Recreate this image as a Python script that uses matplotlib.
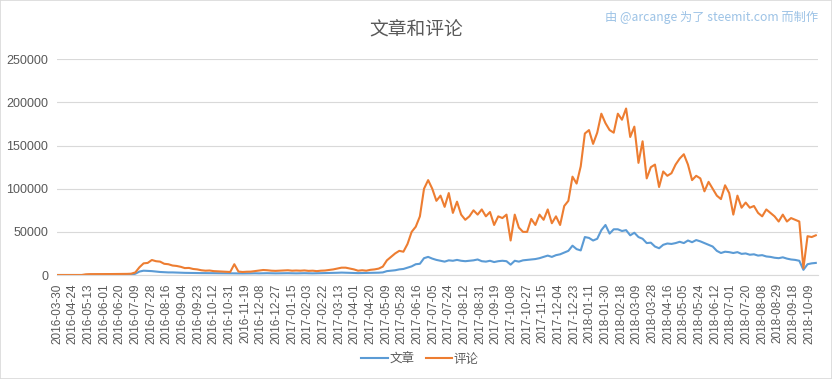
import numpy as np
import matplotlib
matplotlib.use("Agg")
import matplotlib.pyplot as plt
from matplotlib.patches import Rectangle

plt.rcParams['font.family'] = ['Liberation Sans', 'Noto Sans CJK SC', 'DejaVu Sans']

# 类别轴：每 19 个类别显示一个日期标签
tick_labels = [
    "2016-03-30", "2016-04-24", "2016-05-13", "2016-06-01", "2016-06-20", "2016-07-09",
    "2016-07-28", "2016-08-16", "2016-09-04", "2016-09-23", "2016-10-12", "2016-10-31",
    "2016-11-19", "2016-12-08", "2016-12-27", "2017-01-15", "2017-02-03", "2017-02-22",
    "2017-03-13", "2017-04-01", "2017-04-20", "2017-05-09", "2017-05-28", "2017-06-16",
    "2017-07-05", "2017-07-24", "2017-08-12", "2017-08-31", "2017-09-19", "2017-10-08",
    "2017-10-27", "2017-11-15", "2017-12-04", "2017-12-23", "2018-01-11", "2018-01-30",
    "2018-02-18", "2018-03-09", "2018-03-28", "2018-04-16", "2018-05-05", "2018-05-24",
    "2018-06-12", "2018-07-01", "2018-07-20", "2018-08-08", "2018-08-29", "2018-09-18",
    "2018-10-09",
]
label_every = 19
n_categories = 923
sample_step = 5  # 每 5 个类别取一个值

# 评论 (comments)
comments = [
    0, 0, 0, 0, 0, 0, 0, 800,
    1000, 1000, 1000, 1100, 1100, 1100, 1200, 1200, 1200, 1300, 1500,
    3000, 9000, 13500, 14000, 17400, 16000, 15500, 13000, 12500, 11000,
    10500, 9500, 8000, 8200, 7000, 6500, 5500, 5000, 5200, 4500,
    4200, 4000, 3800, 3500, 12500, 4000, 3500, 3800, 3900, 4500,
    5000, 5800, 5500, 5000, 4800, 5000, 5200, 5500, 5000, 5200,
    5000, 5300, 4800, 5000, 4500, 5000, 5200, 5800, 6500, 7500,
    8500, 8500, 7500, 6500, 5000, 5500, 5000, 6000, 6500, 7400,
    9700, 17000, 21000, 25000, 28000, 27000, 36000, 50000, 56000, 68000,
    100000, 110000, 100000, 86000, 92000, 79000, 95000, 72000, 85000, 70000,
    64000, 68000, 75000, 70000, 76000, 68000, 73000, 58000, 68000, 66000,
    70000, 40000, 70000, 55000, 50000, 50000, 65000, 58000, 70000, 64000,
    76000, 60000, 68000, 58000, 80000, 86000, 114000, 106000, 126000, 164000,
    168000, 152000, 165000, 187000, 176000, 168000, 165000, 187000, 180000, 193000,
    160000, 172000, 130000, 155000, 112000, 125000, 128000, 102000, 120000, 115000,
    118000, 128000, 135000, 140000, 128000, 110000, 115000, 112000, 97000, 108000,
    100000, 92000, 88000, 104000, 95000, 70000, 92000, 78000, 84000, 78000,
    80000, 72000, 68000, 76000, 72000, 68000, 62000, 70000, 62000, 66000,
    64000, 62000, 8000, 45000, 44000, 46000,
]

# 文章 (posts)
posts = [
    0, 0, 0, 0, 0, 0, 0, 0,
    200, 200, 200, 200, 200, 200, 200, 200, 200, 200, 200,
    1500, 4000, 5000, 4800, 4500, 4000, 3500, 3200, 3000, 3000, 2800, 2600,
    2500, 2400, 2300, 2300, 2200, 2200, 2100, 2100, 2000, 2000, 2000, 1900, 1900, 1800, 1800,
    1800, 1900, 2000, 1900, 2000, 2100, 2000, 1900, 2000, 2000, 2100, 2000, 1900, 2000,
    2100, 2000, 1900, 2000, 2100, 2200, 2300,
    2500, 2600, 2800, 2700, 2500, 2300,
    2200, 2300, 2400, 2500, 2600, 2700,
    3000, 4500, 5000, 5500, 6500, 7000, 8500, 10000, 12500, 13000,
    19500, 21000, 19000, 17500, 16500, 15500, 17000, 16500, 17500, 16500,
    16000, 16500, 17000, 18000, 16000, 15500, 16500, 15000, 16000, 16500,
    16000, 12000, 16500, 15500, 17000, 17500, 18000, 18500, 19500, 21000,
    22500, 21000, 23000, 24000, 26000, 28000, 34000, 30000, 28500, 44000,
    43000, 40000, 42000, 52000, 58000, 48000, 53000, 53000, 51000, 52000,
    46000, 49000, 44000, 42000, 37000, 37500, 33000, 31000, 35000, 36500,
    36000, 37000, 38500, 37000, 40000, 38000, 40500, 39000, 37000, 35000,
    33000, 28000, 25500, 27000, 26500, 25500, 26500, 24500, 25000, 23500,
    24000, 22500, 23000, 21500, 21000, 20000, 19500, 20500, 19000, 18000,
    17500, 16500, 6000, 12500, 13500, 14000,
]

assert len(posts) == len(comments)
x = np.arange(len(posts)) * sample_step

fig = plt.figure(figsize=(8.32, 3.79), dpi=100)
ax = fig.add_axes([0.068, 0.2744, 0.915, 0.569])

ax.plot(x, posts, color="#5b9bd5", linewidth=1.5, label="文章")
ax.plot(x, comments, color="#ed7d31", linewidth=1.5, label="评论")

ax.set_xlim(-0.5, n_categories - 0.5)
ax.set_ylim(0, 250000)
ax.set_yticks(np.arange(0, 250001, 50000))
ax.set_yticklabels([str(v) for v in range(0, 250001, 50000)])
ax.set_xticks(np.arange(len(tick_labels)) * label_every)
ax.set_xticklabels(tick_labels, rotation=90)

ax.grid(axis="y", color="#d9d9d9", linewidth=0.8)
ax.set_axisbelow(True)
for side in ["top", "right", "left"]:
    ax.spines[side].set_visible(False)
ax.spines["bottom"].set_color("#d9d9d9")
ax.spines["bottom"].set_linewidth(0.8)
ax.tick_params(axis="both", length=0, colors="#595959")
ax.tick_params(axis="x", labelsize=8.5, pad=6)
ax.tick_params(axis="y", labelsize=9, pad=6)

fig.text(0.5, 0.922, "文章和评论", ha="center", va="center", fontsize=13.5,
         color="#595959", family=["Noto Sans CJK SC", "DejaVu Sans"])
fig.text(0.983, 0.955, "由 @arcange 为了 steemit.com 而制作", ha="right", va="center",
         fontsize=8.8, color="#9dc3e6", family=["Noto Sans CJK SC", "DejaVu Sans"])

leg = fig.legend(loc="center", bbox_to_anchor=(0.505, 0.053), ncol=2, frameon=False,
                 prop={"family": ["Noto Sans CJK SC", "DejaVu Sans"], "size": 9},
                 handlelength=2.1, handletextpad=0.15, columnspacing=0.9)
for t in leg.get_texts():
    t.set_color("#595959")

fig.patches.append(Rectangle((0.0006, 0.0013), 0.9988, 0.9974, transform=fig.transFigure,
                             fill=False, edgecolor="#d9d9d9", linewidth=1.2))

fig.savefig("out.png", dpi=100)
